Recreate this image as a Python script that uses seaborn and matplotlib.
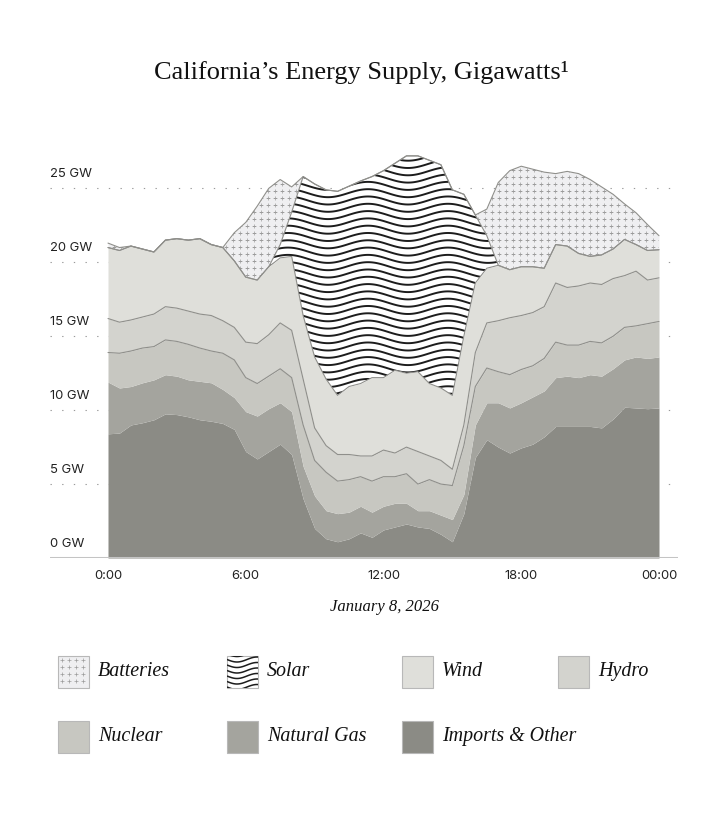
import numpy as np
import pandas as pd
import matplotlib
matplotlib.use("Agg")
import matplotlib.pyplot as plt
import matplotlib.transforms as mtransforms
from matplotlib.patches import Rectangle
from matplotlib.collections import LineCollection
import seaborn as sns

# half-hourly readings, January 8, 2026 (GW)
hours = np.arange(0, 24.5, 0.5)

imports_other = [8.4, 8.45, 9.0, 9.15, 9.35, 9.75, 9.7, 9.55, 9.35, 9.25, 9.1, 8.7,
                 7.2, 6.7, 7.2, 7.7, 7.0, 4.0, 2.0, 1.3, 1.1, 1.3, 1.7, 1.4,
                 1.9, 2.1, 2.3, 2.1, 2.0, 1.6, 1.1, 3.0, 6.8, 8.0, 7.5, 7.1,
                 7.45, 7.7, 8.2, 8.9, 8.9, 8.9, 8.9, 8.8, 9.4, 10.2, 10.15, 10.1, 10.15]
natural_gas = [3.5, 3.05, 2.6, 2.7, 2.7, 2.65, 2.6, 2.5, 2.6, 2.6, 2.3, 2.15,
               2.7, 2.9, 2.9, 2.8, 2.9, 2.2, 2.2, 1.9, 1.9, 1.8, 1.8, 1.7,
               1.6, 1.6, 1.4, 1.1, 1.2, 1.3, 1.5, 1.3, 2.2, 2.5, 3.0, 3.05,
               3.05, 3.2, 3.1, 3.3, 3.4, 3.3, 3.5, 3.5, 3.4, 3.2, 3.45, 3.4, 3.45]
nuclear = [2.0, 2.35, 2.4, 2.35, 2.25, 2.35, 2.35, 2.4, 2.25, 2.15, 2.45, 2.55,
           2.3, 2.2, 2.2, 2.3, 2.3, 2.8, 2.4, 2.6, 2.2, 2.2, 2.0, 2.1,
           2.0, 1.8, 2.0, 1.8, 2.1, 2.1, 2.3, 3.3, 2.6, 2.35, 2.1, 2.25,
           2.25, 2.1, 2.2, 2.4, 2.1, 2.2, 2.25, 2.25, 2.2, 2.2, 2.1, 2.35, 2.4]
hydro = [2.3, 2.1, 2.1, 2.1, 2.2, 2.25, 2.25, 2.25, 2.3, 2.4, 2.2, 2.2,
         2.4, 2.7, 2.8, 3.1, 3.2, 3.1, 2.2, 1.8, 1.8, 1.7, 1.4, 1.7,
         1.8, 1.6, 1.8, 2.2, 1.6, 1.6, 1.1, 1.4, 2.3, 3.05, 3.45, 3.85,
         3.65, 3.6, 3.5, 4.0, 3.9, 4.0, 3.95, 3.95, 3.9, 3.5, 3.7, 2.95, 2.95]
wind = [4.8, 4.85, 5.0, 4.6, 4.2, 4.5, 4.7, 4.8, 5.1, 4.8, 4.95, 4.5,
        4.4, 4.3, 4.6, 4.4, 5.0, 4.3, 4.8, 4.5, 4.0, 4.6, 4.9, 5.3,
        4.9, 5.6, 5.0, 5.4, 4.9, 4.9, 5.0, 6.0, 4.7, 3.7, 3.75, 3.25,
        3.3, 3.1, 2.6, 2.6, 2.8, 2.2, 1.8, 2.0, 2.0, 2.45, 1.8, 2.0, 1.9]
solar = [0, 0, 0, 0, 0, 0, 0, 0, 0, 0, 0, 0,
         0, 0, 0, 0.9, 3.0, 9.4, 11.7, 12.8, 13.8, 13.55, 13.7, 13.6,
         14.0, 14.0, 14.7, 14.6, 15.1, 15.1, 13.9, 9.6, 4.6, 2.2, 0, 0,
         0, 0, 0, 0, 0, 0, 0, 0, 0, 0, 0, 0, 0]
batteries = [0.3, 0.2, 0, 0, 0, 0, 0, 0, 0, 0, 0, 1.9,
             3.7, 5.0, 5.3, 4.4, 1.7, 0, 0, 0, 0, 0, 0, 0,
             0, 0, 0, 0, 0, 0, 0, 0, 0, 1.8, 5.6, 6.7,
             6.8, 6.6, 6.5, 4.8, 5.05, 5.4, 5.2, 4.6, 3.7, 2.4, 2.15, 1.75, 0.95]

sources = ["Imports & Other", "Natural Gas", "Nuclear", "Hydro", "Wind", "Solar", "Batteries"]
colors = {"Imports & Other": "#8b8b85", "Natural Gas": "#a4a49e", "Nuclear": "#c7c7c1",
          "Hydro": "#d3d3ce", "Wind": "#dfdfda", "Solar": "#ffffff", "Batteries": "#efeff1"}
outlined = ["Nuclear", "Hydro", "Wind", "Solar", "Batteries"]

df = pd.DataFrame({"Imports & Other": imports_other, "Natural Gas": natural_gas,
                   "Nuclear": nuclear, "Hydro": hydro, "Wind": wind,
                   "Solar": solar, "Batteries": batteries}, index=hours)
cum = df[sources].cumsum(axis=1)

sns.set_theme(style="white")
plt.rcParams["font.family"] = ["Inter", "DejaVu Sans"]
serif = ["Liberation Serif", "DejaVu Serif"]

fig = plt.figure(figsize=(7.28, 8.30), dpi=100)
ax = fig.add_axes([50 / 728, 1 - 558 / 830, 628 / 728, 428 / 830])
px_h = 551 / 24.0      # pixels per hour
px_gw = 369.6 / 25.0   # pixels per GW
ax.set_xlim(-58 / px_h, 24 + 19 / px_h)
ax.set_ylim(0, 428 / px_gw)

polys = {}
lower = np.zeros(len(hours))
for name in sources:
    upper = cum[name].values
    polys[name] = ax.fill_between(hours, lower, upper, color=colors[name], lw=0, zorder=2)
    lower = upper

for name in outlined:
    sns.lineplot(x=hours, y=cum[name].values, color="#8f8f8b", lw=0.8, ax=ax, zorder=4)

# battery dot texture
gx = np.arange(-2.5, 25, 7 / px_h)
gy = np.arange(0.2, 29, 7 / px_gw)
GX, GY = np.meshgrid(gx, gy)
dots = ax.scatter(GX.ravel(), GY.ravel(), marker="+", s=5, c="#9c9c9c",
                  linewidths=0.5, zorder=3)
dots.set_clip_path(polys["Batteries"].get_paths()[0], ax.transData)

# solar wave texture
period = 80 / px_h
amp = 4 / px_gw
xs = np.linspace(0, 24, 900)
segs = [np.column_stack([xs, y0 + amp * np.sin(2 * np.pi * xs / period)])
        for y0 in np.arange(-1, 30, 7.3 / px_gw)]
waves = LineCollection(segs, colors="#1c1c1c", linewidths=1.4, zorder=3)
ax.add_collection(waves)
waves.set_clip_path(polys["Solar"].get_paths()[0], ax.transData)

# dotted grid + labels
ylab_trans = mtransforms.offset_copy(ax.get_yaxis_transform(), fig=fig, x=0, y=14, units="dots")
for v in [5, 10, 15, 20, 25]:
    ax.axhline(v, color="#9a9a9a", lw=0.8, ls=(0, (1.2, 9.3)), zorder=0)
for v in [0, 5, 10, 15, 20, 25]:
    ax.text(0, v, f"{v} GW", transform=ylab_trans, ha="left", va="center",
            fontsize=9.4, color="#222222")
ax.axhline(0, color="#c4c4c4", lw=2.2, zorder=5)

ax.set_yticks([])
ax.set_xticks([0, 6, 12, 18, 24])
ax.set_xticklabels(["0:00", "6:00", "12:00", "18:00", "00:00"])
ax.tick_params(axis="x", length=0, pad=8.5, labelsize=9.4, labelcolor="#222222")
ax.grid(False)
sns.despine(ax=ax, left=True, bottom=True)
ax.set_xlabel("")
ax.set_ylabel("")

fig.text(361 / 728, 1 - 72 / 830, "California\u2019s Energy Supply, Gigawatts\u00b9",
         ha="center", va="center", fontsize=19, family=serif, color="#111111")
fig.text(384 / 728, 1 - 607 / 830, "January 8, 2026", ha="center", va="center",
         fontsize=12, family=serif, style="italic", color="#111111")

# legend
lax = fig.add_axes([0, 0, 1, 1])
lax.set_xlim(0, 728)
lax.set_ylim(830, 0)
lax.axis("off")
legend_pos = {"Batteries": (58, 656), "Solar": (227, 656), "Wind": (402, 656),
              "Hydro": (558, 656), "Nuclear": (58, 721), "Natural Gas": (227, 721),
              "Imports & Other": (402, 721)}
for name in ["Batteries", "Solar", "Wind", "Hydro", "Nuclear", "Natural Gas", "Imports & Other"]:
    x0, y0 = legend_pos[name]
    box = Rectangle((x0, y0), 31, 32, facecolor=colors[name], edgecolor="#b8b8b8", lw=0.8, zorder=2)
    lax.add_patch(box)
    if name == "Batteries":
        lx, ly = np.meshgrid(np.arange(x0 + 4, x0 + 31, 7), np.arange(y0 + 4, y0 + 32, 7))
        sc = lax.scatter(lx.ravel(), ly.ravel(), marker="+", s=5, c="#9c9c9c", linewidths=0.5, zorder=3)
        sc.set_clip_path(box)
    if name == "Solar":
        wx = np.linspace(x0, x0 + 31, 60)
        wsegs = [np.column_stack([wx, yy + 2.5 * np.sin(2 * np.pi * (wx - x0) / 40)])
                 for yy in np.arange(y0 - 2, y0 + 36, 5.5)]
        lc = LineCollection(wsegs, colors="#1c1c1c", linewidths=1.1, zorder=3)
        lax.add_collection(lc)
        lc.set_clip_path(box)
    lax.text(x0 + 40, y0 + 15, name, ha="left", va="center", fontsize=14.4,
             family=serif, style="italic", color="#111111")

fig.savefig("out.png", dpi=100)
